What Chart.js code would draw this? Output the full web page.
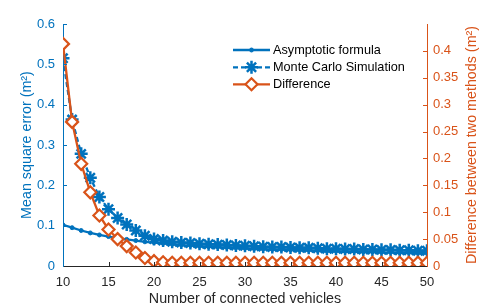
<!DOCTYPE html>
<html><head><meta charset="utf-8">
<script src="https://cdn.jsdelivr.net/npm/chart.js@4.4.1/dist/chart.umd.min.js"></script>
<style>html,body{margin:0;padding:0;background:#fff;}#wrap{width:485px;height:308px;}</style>
</head><body><div id="wrap"><canvas id="c" width="485" height="308" style="width:485px;height:308px"></canvas></div>
<script>
// ---- data ----
const vehicles = [10,11,12,13,14,15,16,17,18,19,20,21,22,23,24,25,26,27,28,29,30,31,32,33,34,35,36,37,38,39,40,41,42,43,44,45,46,47,48,49,50];
const asymptotic = [0.102,0.095,0.088,0.082,0.077,0.073,0.069,0.066,0.063,0.060,0.058,0.056,0.054,0.052,0.051,0.049,0.048,0.047,0.046,0.045,0.044,0.043,0.042,0.041,0.041,0.040,0.039,0.039,0.038,0.037,0.037,0.036,0.036,0.035,0.035,0.034,0.034,0.033,0.033,0.032,0.032];
const monteCarlo = [0.515,0.363,0.278,0.219,0.171,0.141,0.119,0.103,0.088,0.075,0.067,0.063,0.060,0.058,0.057,0.055,0.054,0.053,0.052,0.051,0.050,0.049,0.048,0.047,0.047,0.046,0.045,0.045,0.044,0.043,0.043,0.042,0.042,0.041,0.041,0.040,0.040,0.039,0.039,0.038,0.038];
const difference = [0.413,0.268,0.190,0.137,0.094,0.068,0.050,0.037,0.025,0.015,0.009,0.007,0.006,0.006,0.006,0.006,0.006,0.006,0.006,0.006,0.006,0.006,0.006,0.006,0.006,0.006,0.006,0.006,0.006,0.006,0.006,0.006,0.006,0.006,0.006,0.006,0.006,0.006,0.006,0.006,0.006];
const xTicks = [10,15,20,25,30,35,40,45,50];
const leftTicks = [0,0.1,0.2,0.3,0.4,0.5,0.6];
const rightTicks = [0,0.05,0.1,0.15,0.2,0.25,0.3,0.35,0.4];
const seriesLabels = ['Asymptotic formula','Monte Carlo Simulation','Difference'];
const xTitle = 'Number of connected vehicles';
const leftTitle = 'Mean square error (m\u00B2)';
const rightTitle = 'Difference between two methods (m\u00B2)';

const BLUE = '#0072BD', ORANGE = '#D95319', AX = '#262626';
const FONT = '"Liberation Sans", Arial, Helvetica, sans-serif';
const pts = arr => vehicles.map((v, i) => ({x: v, y: arr[i]}));
const fmt = v => String(Number(v.toFixed(2)));

const decor = {
  id: 'decor',
  afterDraw(chart) {
    const ctx = chart.ctx, ca = chart.chartArea;
    const sx = chart.scales.x, sy = chart.scales.y, sy2 = chart.scales.y2;
    ctx.save();
    ctx.lineWidth = 1;
    // inward tick marks
    ctx.strokeStyle = AX;
    sx.ticks.forEach(t => {
      if (t.value === sx.min || t.value === sx.max) return;
      const p = Math.round(sx.getPixelForValue(t.value)) + 0.5;
      ctx.beginPath(); ctx.moveTo(p, ca.bottom); ctx.lineTo(p, ca.bottom - 4); ctx.stroke();
    });
    ctx.strokeStyle = BLUE;
    sy.ticks.forEach(t => {
      if (t.value === 0) return;
      const p = Math.round(sy.getPixelForValue(t.value)) + 0.5;
      ctx.beginPath(); ctx.moveTo(ca.left, p); ctx.lineTo(ca.left + 4, p); ctx.stroke();
    });
    ctx.strokeStyle = ORANGE;
    sy2.ticks.forEach(t => {
      if (t.value === 0) return;
      const p = Math.round(sy2.getPixelForValue(t.value)) + 0.5;
      ctx.beginPath(); ctx.moveTo(ca.right, p); ctx.lineTo(ca.right - 4, p); ctx.stroke();
    });
    // right axis title (reads bottom to top)
    ctx.save();
    ctx.translate(472, (ca.top + ca.bottom) / 2);
    ctx.rotate(-Math.PI / 2);
    ctx.fillStyle = ORANGE;
    ctx.font = '14.3px ' + FONT;
    ctx.textAlign = 'center'; ctx.textBaseline = 'middle';
    ctx.fillText(rightTitle, 0, 0);
    ctx.restore();
    // legend
    const rows = [50, 67.3, 84.3];
    chart.data.datasets.forEach((ds, i) => {
      const y = rows[i];
      ctx.save();
      ctx.strokeStyle = ds.borderColor; ctx.lineWidth = ds.borderWidth;
      ctx.setLineDash(ds.borderDash || []);
      ctx.beginPath(); ctx.moveTo(233, y); ctx.lineTo(270, y); ctx.stroke();
      ctx.setLineDash([]);
      ctx.strokeStyle = ds.borderColor;
      ctx.fillStyle = ds.pointBackgroundColor;
      ctx.lineWidth = ds.pointBorderWidth;
      Chart.helpers.drawPoint(ctx, {pointStyle: ds.pointStyle, radius: ds.pointRadius, rotation: 0, borderWidth: ds.pointBorderWidth}, 251.5, y);
      ctx.restore();
      ctx.fillStyle = '#000';
      ctx.font = '12.7px ' + FONT;
      ctx.textAlign = 'left'; ctx.textBaseline = 'middle';
      ctx.fillText(ds.label, 273, y + 0.5);
    });
    ctx.restore();
  }
};

new Chart(document.getElementById('c'), {
  type: 'line',
  data: {
    datasets: [
      {label: seriesLabels[0], data: pts(asymptotic), yAxisID: 'y', borderColor: BLUE, backgroundColor: BLUE,
       pointBackgroundColor: BLUE, borderWidth: 2.3, pointStyle: 'circle', pointRadius: 2, pointBorderWidth: 1, order: 2},
      {label: seriesLabels[1], data: pts(monteCarlo), yAxisID: 'y', borderColor: BLUE, backgroundColor: 'rgba(0,0,0,0)',
       pointBackgroundColor: 'rgba(0,0,0,0)', borderWidth: 2.3, borderDash: [5, 3], pointStyle: 'star', pointRadius: 6.5, pointBorderWidth: 2.5, order: 1},
      {label: seriesLabels[2], data: pts(difference), yAxisID: 'y2', borderColor: ORANGE, backgroundColor: '#fff',
       pointBackgroundColor: '#fff', borderWidth: 2.3, pointStyle: 'rectRot', pointRadius: 6, pointBorderWidth: 2.2, order: 0}
    ]
  },
  options: {
    responsive: false, animation: false, devicePixelRatio: 1,
    layout: {padding: {top: 24, left: 0, right: 0, bottom: 0}},
    plugins: {legend: {display: false}, tooltip: {enabled: false}},
    elements: {line: {tension: 0}},
    scales: {
      x: {
        type: 'linear', min: 10, max: 50,
        afterBuildTicks: s => { s.ticks = xTicks.map(v => ({value: v})); },
        afterFit: s => { s.height = 42; },
        grid: {drawOnChartArea: false, drawTicks: false},
        border: {display: true, color: AX, width: 1},
        ticks: {color: AX, font: {family: FONT, size: 13}, padding: 9, maxRotation: 0, callback: v => fmt(v)},
        title: {display: true, text: xTitle, color: AX, font: {family: FONT, size: 14.3}, padding: {top: 0, bottom: 0}}
      },
      y: {
        position: 'left', min: 0, max: 0.6,
        afterBuildTicks: s => { s.ticks = leftTicks.map(v => ({value: v})); },
        afterFit: s => { s.width = 63; },
        grid: {drawOnChartArea: false, drawTicks: false},
        border: {display: true, color: BLUE, width: 1},
        ticks: {color: BLUE, font: {family: FONT, size: 13}, padding: 8, callback: v => fmt(v)},
        title: {display: true, text: leftTitle, color: BLUE, font: {family: FONT, size: 14.3}, padding: {top: 18.4, bottom: 0}}
      },
      y2: {
        position: 'right', min: 0, max: 0.45,
        afterBuildTicks: s => { s.ticks = rightTicks.map(v => ({value: v})); },
        afterFit: s => { s.width = 58; },
        grid: {drawOnChartArea: false, drawTicks: false},
        border: {display: true, color: ORANGE, width: 1},
        ticks: {color: ORANGE, font: {family: FONT, size: 13}, padding: 6, callback: v => fmt(v)}
      }
    }
  },
  plugins: [decor]
});
</script></body></html>
